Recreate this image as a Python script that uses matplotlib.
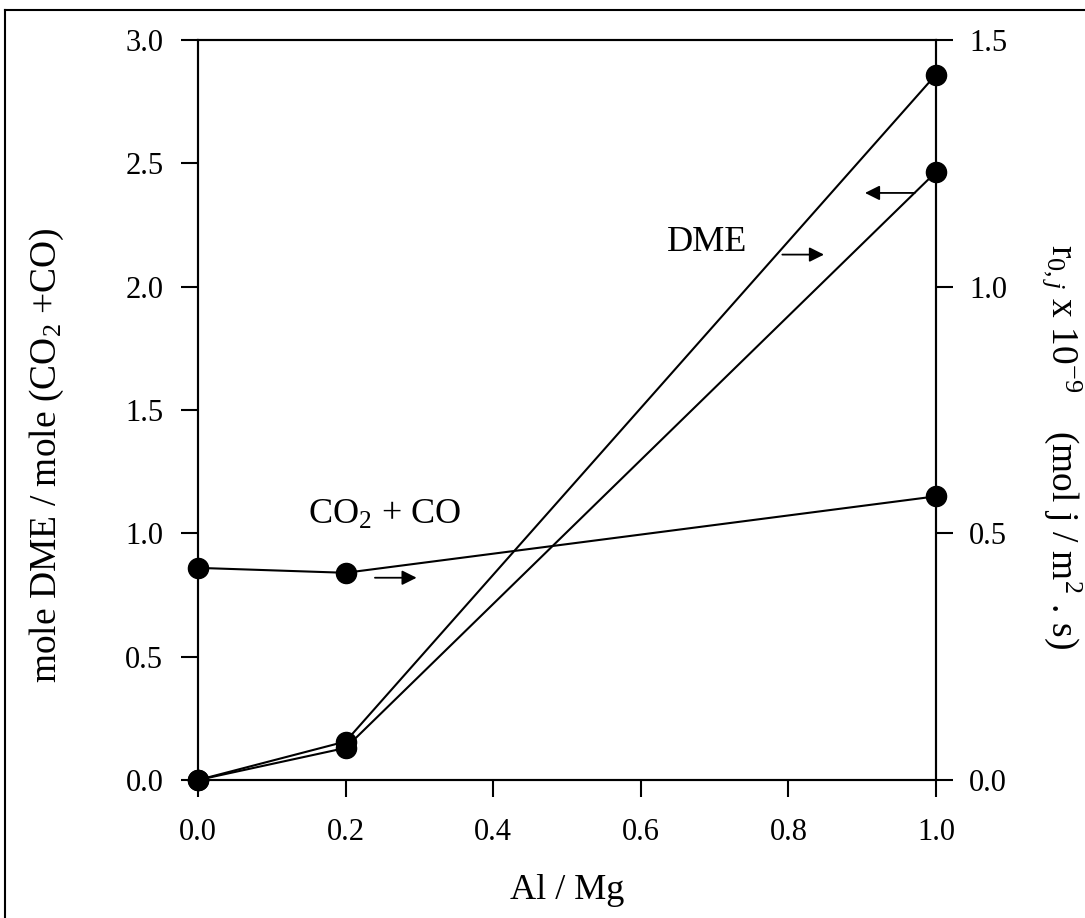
import numpy as np
import matplotlib
matplotlib.use("Agg")
import matplotlib.pyplot as plt
from matplotlib.lines import Line2D

plt.rcParams['font.family'] = ['Liberation Serif', 'DejaVu Serif']
plt.rcParams['mathtext.fontset'] = 'custom'
plt.rcParams['mathtext.rm'] = 'Liberation Serif'
plt.rcParams['mathtext.it'] = 'Liberation Serif:italic'

# data
al_mg = [0.0, 0.2, 1.0]
dme_ratio = [0.0, 0.13, 2.465]      # left axis, mole DME / mole (CO2+CO)
dme_rate = [0.0, 0.078, 1.43]       # right axis, r0,j DME
cox_rate = [0.43, 0.42, 0.575]      # right axis, r0,j CO2+CO

xticks = [0.0, 0.2, 0.4, 0.6, 0.8, 1.0]
yticks_left = [0.0, 0.5, 1.0, 1.5, 2.0, 2.5, 3.0]
yticks_right = [0.0, 0.5, 1.0, 1.5]

fig = plt.figure(figsize=(10.85, 9.18), dpi=100)
ax1 = fig.add_axes([198/1085, 1-780/918, 738/1085, 740/918])
ax2 = ax1.twinx()

mk = dict(color='black', lw=1.5, marker='o', ms=14.5, mec='black', mfc='black', clip_on=False)
ax1.plot(al_mg, dme_ratio, **mk)
ax2.plot(al_mg, dme_rate, **mk)
ax2.plot(al_mg, cox_rate, **mk)

ax1.set_xlim(0, 1.0)
ax1.set_ylim(0, 3.0)
ax2.set_ylim(0, 1.5)
ax1.set_xticks(xticks)
ax1.set_xticklabels([f"{v:.1f}" for v in xticks])
ax1.set_yticks(yticks_left)
ax1.set_yticklabels([f"{v:.1f}" for v in yticks_left])
ax2.set_yticks(yticks_right)
ax2.set_yticklabels([f"{v:.1f}" for v in yticks_right])

for a in (ax1, ax2):
    a.tick_params(direction='out', length=12, width=1.5, labelsize=22)
    for s in a.spines.values():
        s.set_linewidth(1.5)
ax1.tick_params(axis='x', pad=15)
ax1.tick_params(axis='y', pad=13)
ax2.tick_params(axis='y', pad=12)

ax1.set_xlabel("Al / Mg", fontsize=26, va='center')
ax1.xaxis.set_label_coords(0.5, -0.149)
ax1.set_ylabel("mole DME / mole (CO$_2$ +CO)", fontsize=27, va='center', ha='center')
ax1.yaxis.set_label_coords(-0.205, 0.439)
ax2.set_ylabel("r$_{0,j}$ x 10$^{-9}$    (mol j / m$^2$ . s)", fontsize=27,
               rotation=270, va='center', ha='center')
ax2.yaxis.set_label_coords(1.171, 0.45)

arr = dict(arrowstyle='-|>', color='black', lw=1.3, mutation_scale=22)
ax2.annotate("", xy=(0.90, 1.19), xytext=(0.975, 1.19), arrowprops=arr)
ax2.text(0.69, 1.09, "DME", fontsize=26, ha='center', va='center')
ax2.annotate("", xy=(0.852, 1.065), xytext=(0.788, 1.065), arrowprops=arr)
ax2.text(0.253, 0.537, "CO$_2$ + CO", fontsize=26, ha='center', va='center')
ax2.annotate("", xy=(0.30, 0.41), xytext=(0.236, 0.41), arrowprops=arr)

# outer frame of the scanned figure
fig.add_artist(Line2D([5/1085, 5/1085], [0, 1-10/918], color='black', lw=1.5))
fig.add_artist(Line2D([5/1085, 1], [1-10/918, 1-10/918], color='black', lw=1.5))

fig.savefig("out.png", dpi=100)
